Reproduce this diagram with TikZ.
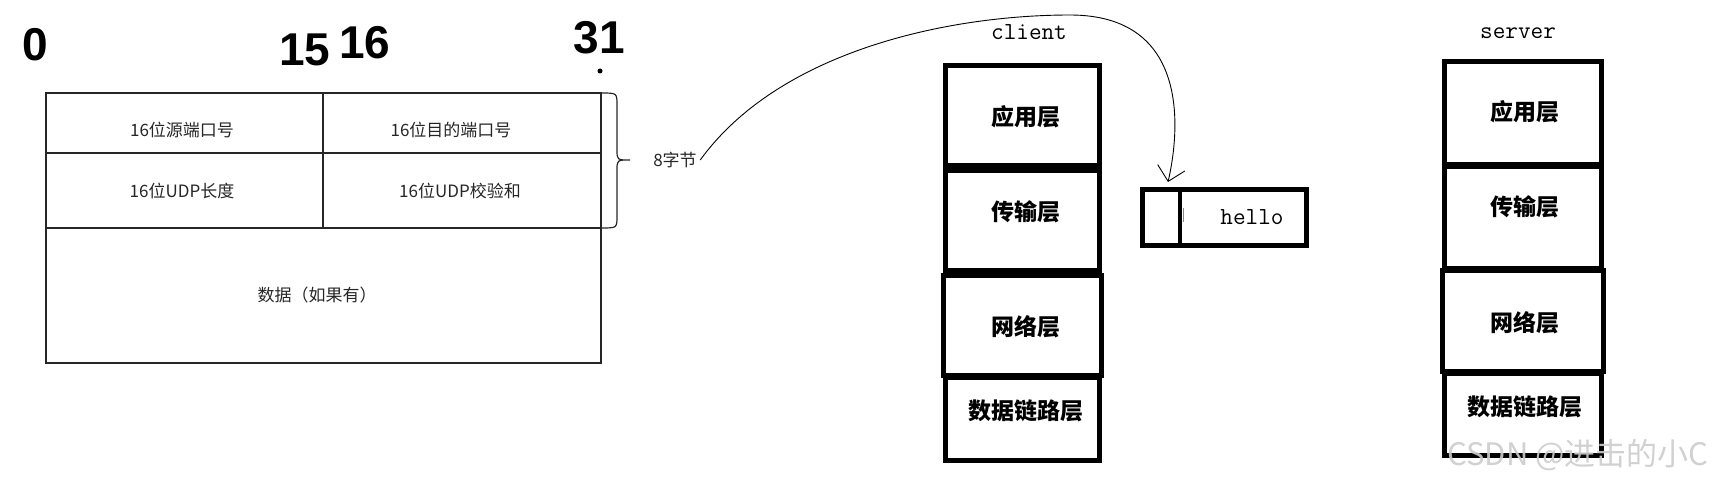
\documentclass[tikz,border=0pt]{standalone}
\usepackage{fontspec}
\usepackage{tikz}
\usetikzlibrary{arrows.meta}
\newfontfamily\cjk{Noto Sans CJK SC}
\newfontfamily\hand{Liberation Sans}

\begin{document}
\begin{tikzpicture}[x=1pt, y=-1pt,
    cell/.style={font=\cjk\fontsize{17}{20}\selectfont, text=black!85},
    layer/.style={font=\cjk\bfseries\fontsize{23}{26}\selectfont},
    host/.style={font=\ttfamily\fontsize{24.5}{26}\selectfont},
    digit/.style={font=\hand\bfseries\fontsize{46}{50}\selectfont},
    thickbox/.style={line width=5pt}]
    \useasboundingbox (0,0) rectangle (1721,486);

    \node[digit] (b0) at (35,45) {0};
    \node[digit] (b15) at (305,50) {15};
    \node[digit] (b16) at (365,43) {16};
    \node[digit] (b31) at (599,38) {31};
    \fill (600,71) circle[radius=2.5pt];

    \draw[line width=1.3pt, black!85] (46,93) rectangle (601,363);
    \draw[line width=1.3pt, black!85] (46,153) -- (601,153) (46,228) -- (601,228) (323,93) -- (323,228);
    \node[cell] (src) at (182,130) {16位源端口号};
    \node[cell] (dst) at (451,130) {16位目的端口号};
    \node[cell] (len) at (182,191) {16位UDP长度};
    \node[cell] (sum) at (460,191) {16位UDP校验和};
    \node[cell] (data) at (317,295) {数据（如果有）};
    \draw[line width=1.2pt, black!85] (601,93) .. controls (617,93) .. (617,105) -- (617,150)
        .. controls (617,160) .. (630,160) .. controls (617,160) .. (617,170) -- (617,216)
        .. controls (617,228) .. (601,228);
    \node[cell] (bytes) at (675,160) {8字节};

    \coordinate (tip) at (1168,182);
    \draw[line width=0.9pt, -{Straight Barb[length=14pt, width=28pt, line width=0.9pt]}]
        (bytes.east) .. controls (780,50) and (950,15) .. (1070,15)
        .. controls (1190,15) and (1180,130) .. (tip);

    \node[host] (client) at (1029,32) {client};
    \foreach \top/\bot/\dx/\ty/\txt [count=\i] in {66/166/0/117/应用层, 171/271/0/212/传输层, 276/375/2/327/网络层, 377/460/0/411/数据链路层}
    {
        \draw[thickbox] (945-\dx,\top) rectangle (1099+\dx,\bot);
        \node[layer] (c\i) at (1026,\ty) {\txt};
    }

    \draw[thickbox] (1142,190) rectangle (1306,246);
    \draw[line width=4.5pt] (1180,190) -- (1180,246);
    \node[host] (hello) at (1252,217) {hello};
    \draw[orange!80!red, line width=1pt] (1183,208) -- (1183,222);

    \node[host] (server) at (1518,33) {server};
    \foreach \top/\bot/\dx/\ty/\txt [count=\i] in {62/165/0/112/应用层, 167/269/0/207/传输层, 271/371/2/323/网络层, 373/455/0/407/数据链路层}
    {
        \draw[thickbox] (1444-\dx,\top) rectangle (1601+\dx,\bot);
        \node[layer] (s\i) at (1525,\ty) {\txt};
    }

    \node[font=\cjk\fontsize{31}{34}\selectfont, text=black!20, opacity=0.9] (mark) at (1578,455) {CSDN @进击的小C};
\end{tikzpicture}
\end{document}
